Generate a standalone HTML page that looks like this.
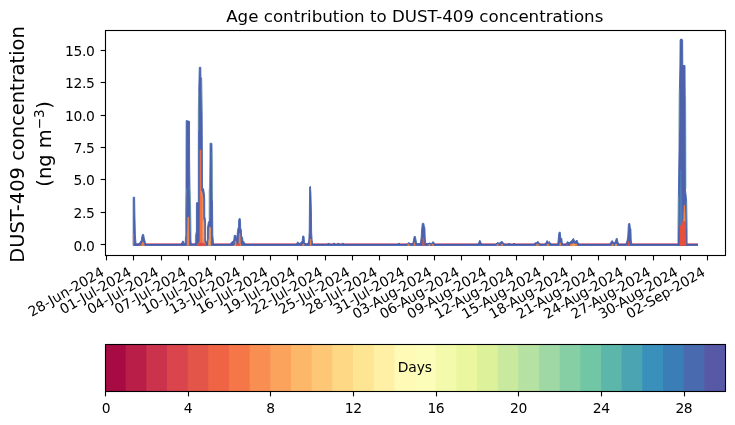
<!DOCTYPE html>
<html lang="en"><head><meta charset="utf-8"><title>Age contribution to DUST-409 concentrations</title>
<style>html,body{margin:0;padding:0;background:#fff;}body{width:735px;height:425px;overflow:hidden;}svg{display:block;}text{font-family:"DejaVu Sans", "Liberation Sans", sans-serif;fill:#000;}</style></head><body>
<svg width="735" height="425" viewBox="0 0 735 425">
<rect x="0" y="0" width="735" height="425" fill="#ffffff"/>
<g id="series"><rect x="133" y="243" width="565" height="1" fill="#dc8ba3"/>
<rect x="133" y="244" width="565" height="1" fill="#4058a6"/>
<rect x="133" y="245" width="565" height="1" fill="#586cb1"/>
<polygon points="133.2,245.4 133.2,197.2 134.6,197.2 134.9,215.0 135.4,236.0 136.0,243.3 136.8,244.2 138.4,243.8 139.8,243.0 140.6,241.0 141.3,240.5 141.8,237.0 142.4,234.4 143.6,234.4 144.2,238.0 144.9,240.5 145.4,243.0 146.0,244.2 146.0,245.4" fill="#4f61ab" stroke="#4463b0" stroke-width="0.9" stroke-linejoin="round"/>
<polyline points="133.3,234.0 133.3,245.2" fill="none" stroke="#f9843f" stroke-width="0.70" stroke-linecap="round" stroke-linejoin="round" stroke-opacity="0.95"/>
<polyline points="133.4,245.2 133.9,245.2" fill="none" stroke="#e8503c" stroke-width="0.80" stroke-linecap="round" stroke-linejoin="round" stroke-opacity="0.90"/>
<polygon points="141.9,245.6 142.3,243.0 143.0,241.8 143.6,243.5 143.9,245.6" fill="#f9843f" stroke="#f9843f" stroke-width="0.6" stroke-linejoin="round"/>
<polyline points="140.0,245.4 144.8,245.4" fill="none" stroke="#f9843f" stroke-width="0.70" stroke-linecap="round" stroke-linejoin="round" stroke-opacity="0.90"/>
<polygon points="181.0,244.4 182.2,242.0 182.7,241.0 183.5,241.2 184.2,243.5 185.2,243.5 185.6,235.0 185.6,215.0 186.0,190.0 186.1,150.0 186.2,120.6 189.5,121.3 189.6,160.0 189.9,185.0 190.5,205.0 190.8,230.0 190.9,240.0 191.3,244.4 193.5,244.4 195.0,244.4 195.4,242.5 195.6,236.0 196.4,231.0 196.4,204.0 196.6,202.6 198.3,202.8 198.3,160.0 198.4,110.0 198.8,88.0 199.3,67.3 200.8,67.3 200.9,77.6 201.6,78.0 202.1,110.0 202.4,160.0 202.5,188.0 203.6,188.8 204.5,195.0 204.7,200.0 204.8,217.0 205.5,219.5 205.7,240.0 206.6,243.3 207.5,240.0 207.5,228.0 208.3,222.5 209.3,220.5 209.3,191.0 209.8,184.0 210.0,160.0 210.1,143.2 211.9,143.4 212.2,160.0 212.5,200.0 212.8,235.0 213.6,244.4" fill="#4f61ab" stroke="#4463b0" stroke-width="0.9" stroke-linejoin="round"/>
<polygon points="187.1,245.6 187.2,236.0 187.9,217.0 188.7,217.5 188.9,236.0 188.9,245.6" fill="#f9843f" stroke="#f9843f" stroke-width="0.6" stroke-linejoin="round"/>
<polygon points="197.2,245.6 198.4,243.5 199.9,241.5 200.0,205.0 200.1,150.0 200.9,150.0 201.0,190.0 202.2,200.0 202.4,241.0 202.4,245.6" fill="#f4703f" stroke="#f4703f" stroke-width="0.6" stroke-linejoin="round"/>
<polygon points="201.0,191.0 202.2,193.0 202.9,200.0 203.0,218.0 204.0,221.0 204.1,241.0 205.0,243.5 205.8,245.6 202.4,245.6 202.4,200.0" fill="#f98e52" stroke="#f98e52" stroke-width="0.6" stroke-linejoin="round"/>
<polygon points="197.2,245.6 198.5,243.8 200.5,243.0 203.5,243.2 205.2,244.2 205.8,245.6" fill="#dc4a48" stroke="#dc4a48" stroke-width="0.6" stroke-linejoin="round"/>
<polyline points="203.3,223.0 203.5,238.0" fill="none" stroke="#fdb768" stroke-width="0.60" stroke-linecap="round" stroke-linejoin="round" stroke-opacity="0.90"/>
<polygon points="208.5,245.4 208.6,241.0 209.2,238.0 209.3,229.0 209.9,226.8 210.6,228.0 210.7,245.4" fill="#fb9a48" stroke="#fb9a48" stroke-width="0.6" stroke-linejoin="round"/>
<polyline points="186.0,189.0 185.6,215.0 185.5,236.0" fill="none" stroke="#9fd8a4" stroke-width="0.60" stroke-linecap="round" stroke-linejoin="round" stroke-opacity="0.80"/>
<polyline points="190.0,187.0 190.7,206.0 191.1,231.0" fill="none" stroke="#9fd8a4" stroke-width="0.60" stroke-linecap="round" stroke-linejoin="round" stroke-opacity="0.80"/>
<polyline points="198.4,92.0 198.3,130.0" fill="none" stroke="#9fd8a4" stroke-width="0.50" stroke-linecap="round" stroke-linejoin="round" stroke-opacity="0.70"/>
<polyline points="201.8,79.0 202.2,112.0" fill="none" stroke="#9fd8a4" stroke-width="0.50" stroke-linecap="round" stroke-linejoin="round" stroke-opacity="0.70"/>
<polyline points="209.3,186.0 209.0,218.0" fill="none" stroke="#9fd8a4" stroke-width="0.60" stroke-linecap="round" stroke-linejoin="round" stroke-opacity="0.80"/>
<polyline points="212.2,152.0 212.6,200.0" fill="none" stroke="#9fd8a4" stroke-width="0.60" stroke-linecap="round" stroke-linejoin="round" stroke-opacity="0.80"/>
<polyline points="195.4,236.0 195.2,242.0" fill="none" stroke="#9fd8a4" stroke-width="0.50" stroke-linecap="round" stroke-linejoin="round" stroke-opacity="0.70"/>
<polygon points="230.5,244.4 231.3,242.5 232.0,241.6 233.0,241.4 233.8,240.0 234.2,236.0 234.4,235.3 236.0,235.5 236.3,238.0 236.9,238.3 237.4,232.0 237.9,228.5 238.5,227.0 238.7,220.0 239.2,218.6 240.2,218.6 240.5,222.0 240.7,228.0 241.3,230.0 241.6,236.0 242.5,237.5 242.9,240.5 243.8,241.5 244.5,243.0 245.8,244.4" fill="#4f61ab" stroke="#4463b0" stroke-width="0.9" stroke-linejoin="round"/>
<polygon points="239.0,245.4 239.2,238.0 239.7,233.3 240.2,238.0 240.5,245.4" fill="#f9843f" stroke="#f9843f" stroke-width="0.6" stroke-linejoin="round"/>
<polygon points="235.1,245.4 235.3,241.0 235.9,241.0 236.1,245.4" fill="#f9843f" stroke="#f9843f" stroke-width="0.6" stroke-linejoin="round"/>
<polyline points="234.2,245.3 241.2,245.3" fill="none" stroke="#fba35c" stroke-width="0.80" stroke-linecap="round" stroke-linejoin="round" stroke-opacity="0.90"/>
<polygon points="236.2,245.6 237.5,243.8 239.5,243.6 240.2,245.6" fill="#e8503c" stroke="#e8503c" stroke-width="0.6" stroke-linejoin="round"/>
<polygon points="296.3,244.4 297.7,241.8 299.0,243.5 300.5,243.0 302.2,241.0 302.7,236.0 304.0,236.2 304.5,243.0 306.5,244.0 308.0,243.6 308.8,240.0 309.2,232.0 309.4,212.0 309.6,187.0 310.4,186.3 310.9,193.0 311.4,212.0 311.6,232.0 312.1,240.0 312.8,244.4" fill="#4f61ab" stroke="#4463b0" stroke-width="0.9" stroke-linejoin="round"/>
<polygon points="310.2,245.4 310.4,239.0 310.9,239.0 311.1,245.4" fill="#f9843f" stroke="#f9843f" stroke-width="0.6" stroke-linejoin="round"/>
<polygon points="302.6,244.3 304.0,244.3 304.0,245.6 302.6,245.6" fill="#f9843f" stroke="#f9843f" stroke-width="0.6" stroke-linejoin="round"/>
<polygon points="327.4,244.4 328.6,242.9 329.8,244.4" fill="#4f61ab" stroke="#4463b0" stroke-width="0.9" stroke-linejoin="round"/>
<polygon points="332.8,244.4 334.0,242.9 335.2,244.4" fill="#4f61ab" stroke="#4463b0" stroke-width="0.9" stroke-linejoin="round"/>
<polygon points="337.2,244.4 338.4,242.9 339.6,244.4" fill="#4f61ab" stroke="#4463b0" stroke-width="0.9" stroke-linejoin="round"/>
<polygon points="341.7,244.4 342.9,242.9 344.1,244.4" fill="#4f61ab" stroke="#4463b0" stroke-width="0.9" stroke-linejoin="round"/>
<polygon points="397.8,244.4 399.0,242.9 400.2,244.4" fill="#4f61ab" stroke="#4463b0" stroke-width="0.9" stroke-linejoin="round"/>
<polygon points="406.8,244.4 408.9,242.5 410.5,243.8 412.8,243.6 413.5,240.0 414.2,236.4 415.4,236.5 416.0,240.0 416.7,243.6 419.0,243.8 420.4,243.0 421.1,238.0 421.6,230.0 422.3,223.5 423.7,223.2 424.4,226.5 424.9,228.0 425.2,238.0 425.8,243.5 428.0,243.8 429.7,242.8 431.0,243.8 432.0,242.8 433.0,241.5 434.2,243.0 435.2,244.4" fill="#4f61ab" stroke="#4463b0" stroke-width="0.9" stroke-linejoin="round"/>
<polygon points="407.8,244.3 409.2,244.3 409.2,245.6 407.8,245.6" fill="#f9843f" stroke="#f9843f" stroke-width="0.6" stroke-linejoin="round"/>
<polygon points="414.1,245.6 414.6,242.5 415.1,245.6" fill="#f9843f" stroke="#f9843f" stroke-width="0.6" stroke-linejoin="round"/>
<polygon points="422.7,245.6 423.1,237.8 423.8,239.0 424.2,245.6" fill="#e8503c" stroke="#e8503c" stroke-width="0.6" stroke-linejoin="round"/>
<polygon points="428.9,244.3 430.1,244.3 430.1,245.6 428.9,245.6" fill="#f9843f" stroke="#f9843f" stroke-width="0.6" stroke-linejoin="round"/>
<polygon points="432.1,244.3 433.3,244.3 433.3,245.6 432.1,245.6" fill="#f9843f" stroke="#f9843f" stroke-width="0.6" stroke-linejoin="round"/>
<polygon points="478.0,244.4 479.0,242.0 479.8,240.2 480.7,242.0 481.8,244.4" fill="#4f61ab" stroke="#4463b0" stroke-width="0.9" stroke-linejoin="round"/>
<polygon points="495.5,244.4 497.9,242.2 499.0,243.5 500.5,242.0 502.0,241.4 503.2,242.5 504.5,244.4" fill="#4f61ab" stroke="#4463b0" stroke-width="0.9" stroke-linejoin="round"/>
<polygon points="497.0,244.3 498.2,244.3 498.2,245.6 497.0,245.6" fill="#f9843f" stroke="#f9843f" stroke-width="0.6" stroke-linejoin="round"/>
<polygon points="501.2,244.3 502.8,244.3 502.8,245.6 501.2,245.6" fill="#f9843f" stroke="#f9843f" stroke-width="0.6" stroke-linejoin="round"/>
<polygon points="507.8,244.4 509.0,243.1 510.2,244.4" fill="#4f61ab" stroke="#4463b0" stroke-width="0.9" stroke-linejoin="round"/>
<polygon points="512.8,244.4 514.0,243.1 515.2,244.4" fill="#4f61ab" stroke="#4463b0" stroke-width="0.9" stroke-linejoin="round"/>
<polygon points="533.5,244.4 535.0,243.0 536.5,242.5 537.9,241.2 539.0,243.0 540.5,244.4" fill="#4f61ab" stroke="#4463b0" stroke-width="0.9" stroke-linejoin="round"/>
<polygon points="536.6,244.3 538.4,244.3 538.4,245.6 536.6,245.6" fill="#f9843f" stroke="#f9843f" stroke-width="0.6" stroke-linejoin="round"/>
<polygon points="544.5,244.4 546.0,242.5 547.1,240.5 548.2,242.5 549.3,241.5 550.3,243.0 551.5,244.4" fill="#4f61ab" stroke="#4463b0" stroke-width="0.9" stroke-linejoin="round"/>
<polygon points="547.0,244.3 549.0,244.3 549.0,245.6 547.0,245.6" fill="#f9843f" stroke="#f9843f" stroke-width="0.6" stroke-linejoin="round"/>
<polygon points="556.5,244.4 557.8,243.5 558.5,236.0 559.0,232.3 560.2,232.1 560.8,237.5 561.8,238.5 562.3,243.0 563.3,244.4" fill="#4f61ab" stroke="#4463b0" stroke-width="0.9" stroke-linejoin="round"/>
<polygon points="559.7,245.6 559.9,243.0 560.6,243.0 560.9,245.6" fill="#f9843f" stroke="#f9843f" stroke-width="0.6" stroke-linejoin="round"/>
<polygon points="565.5,244.4 566.8,242.5 567.9,241.5 569.0,243.0 570.5,241.5 572.0,240.5 573.4,238.3 574.5,241.0 575.8,241.2 576.9,240.0 578.0,242.5 579.5,244.4" fill="#4f61ab" stroke="#4463b0" stroke-width="0.9" stroke-linejoin="round"/>
<polygon points="570.3,245.6 570.5,244.3 573.5,243.8 576.8,244.3 577.0,245.6" fill="#f9843f" stroke="#f9843f" stroke-width="0.6" stroke-linejoin="round"/>
<polygon points="566.9,244.3 567.9,244.3 567.9,245.6 566.9,245.6" fill="#e8503c" stroke="#e8503c" stroke-width="0.6" stroke-linejoin="round"/>
<polygon points="572.8,244.3 574.4,244.3 574.4,245.6 572.8,245.6" fill="#fba35c" stroke="#fba35c" stroke-width="0.6" stroke-linejoin="round"/>
<polygon points="609.8,244.4 611.0,242.0 612.1,240.5 613.2,242.0 614.3,243.3 615.5,241.0 616.3,238.4 617.2,238.5 617.9,242.0 618.8,244.4" fill="#4f61ab" stroke="#4463b0" stroke-width="0.9" stroke-linejoin="round"/>
<polygon points="611.8,244.3 613.2,244.3 613.2,245.6 611.8,245.6" fill="#f9843f" stroke="#f9843f" stroke-width="0.6" stroke-linejoin="round"/>
<polygon points="615.5,244.3 616.9,244.3 616.9,245.6 615.5,245.6" fill="#fba35c" stroke="#fba35c" stroke-width="0.6" stroke-linejoin="round"/>
<polygon points="625.8,244.4 626.6,242.0 627.2,240.0 627.8,236.0 628.4,224.0 629.0,223.3 629.8,223.5 630.3,228.0 630.9,229.0 631.2,240.0 631.9,244.4" fill="#4f61ab" stroke="#4463b0" stroke-width="0.9" stroke-linejoin="round"/>
<polygon points="628.0,245.6 628.3,241.5 629.1,242.0 629.4,245.6" fill="#e8503c" stroke="#e8503c" stroke-width="0.6" stroke-linejoin="round"/>
<polygon points="678.0,245.4 678.1,225.0 678.4,195.0 679.0,150.0 679.3,95.0 679.9,66.0 680.1,39.8 681.4,38.8 682.6,40.0 682.8,65.5 685.0,65.5 685.2,100.0 685.5,190.0 686.6,200.0 687.0,225.0 687.1,245.4" fill="#4f61ab" stroke="#4463b0" stroke-width="0.9" stroke-linejoin="round"/>
<polygon points="679.9,226.0 680.1,195.0 680.8,170.0 681.6,195.0 681.9,226.0" fill="#4a7db5" stroke="#4a7db5" stroke-width="0.6" stroke-linejoin="round"/>
<polygon points="680.0,245.6 680.1,225.5 681.8,225.5 682.3,224.0 682.6,222.0 683.6,219.0 683.9,213.0 684.4,206.0 684.9,213.0 685.6,230.0 685.9,245.6" fill="#e8503c" stroke="#e8503c" stroke-width="0.6" stroke-linejoin="round"/>
<polygon points="683.9,214.0 684.4,205.0 684.9,214.0 685.1,221.0 683.8,221.0" fill="#f9843f" stroke="#f9843f" stroke-width="0.6" stroke-linejoin="round"/>
<polyline points="685.6,97.0 685.9,140.0 686.0,188.0" fill="none" stroke="#4a9ab5" stroke-width="0.70" stroke-linecap="round" stroke-linejoin="round" stroke-opacity="0.85"/>
<polyline points="679.1,89.0 678.8,130.0" fill="none" stroke="#9fd8a4" stroke-width="0.50" stroke-linecap="round" stroke-linejoin="round" stroke-opacity="0.70"/>
<polyline points="678.2,196.0 678.0,228.0" fill="none" stroke="#9fd8a4" stroke-width="0.50" stroke-linecap="round" stroke-linejoin="round" stroke-opacity="0.70"/>
<polyline points="686.9,202.0 687.2,228.0" fill="none" stroke="#9fd8a4" stroke-width="0.50" stroke-linecap="round" stroke-linejoin="round" stroke-opacity="0.70"/></g>
<rect x="105.50" y="30.50" width="620.00" height="225.00" fill="none" stroke="#000" stroke-width="1.11"/>
<line x1="100.64" y1="244.50" x2="105.50" y2="244.50" stroke="#000" stroke-width="1.11"/>
<text x="94.38" y="250.80" font-size="13.89" text-anchor="end" letter-spacing="-0.4">0.0</text>
<line x1="100.64" y1="212.50" x2="105.50" y2="212.50" stroke="#000" stroke-width="1.11"/>
<text x="94.38" y="217.80" font-size="13.89" text-anchor="end" letter-spacing="-0.4">2.5</text>
<line x1="100.64" y1="179.50" x2="105.50" y2="179.50" stroke="#000" stroke-width="1.11"/>
<text x="94.38" y="185.30" font-size="13.89" text-anchor="end" letter-spacing="-0.4">5.0</text>
<line x1="100.64" y1="147.50" x2="105.50" y2="147.50" stroke="#000" stroke-width="1.11"/>
<text x="94.38" y="152.80" font-size="13.89" text-anchor="end" letter-spacing="-0.4">7.5</text>
<line x1="100.64" y1="115.50" x2="105.50" y2="115.50" stroke="#000" stroke-width="1.11"/>
<text x="94.38" y="120.80" font-size="13.89" text-anchor="end" letter-spacing="-0.4">10.0</text>
<line x1="100.64" y1="82.50" x2="105.50" y2="82.50" stroke="#000" stroke-width="1.11"/>
<text x="94.38" y="87.80" font-size="13.89" text-anchor="end" letter-spacing="-0.4">12.5</text>
<line x1="100.64" y1="50.50" x2="105.50" y2="50.50" stroke="#000" stroke-width="1.11"/>
<text x="94.38" y="55.80" font-size="13.89" text-anchor="end" letter-spacing="-0.4">15.0</text>
<line x1="106.50" y1="255.50" x2="106.50" y2="260.36" stroke="#000" stroke-width="1.11"/>
<text transform="translate(105.00 274.80) rotate(-30)" font-size="13.89" text-anchor="end" letter-spacing="-0.08">28-Jun-2024</text>
<line x1="133.50" y1="255.50" x2="133.50" y2="260.36" stroke="#000" stroke-width="1.11"/>
<text transform="translate(132.33 274.80) rotate(-30)" font-size="13.89" text-anchor="end" letter-spacing="-0.08">01-Jul-2024</text>
<line x1="161.50" y1="255.50" x2="161.50" y2="260.36" stroke="#000" stroke-width="1.11"/>
<text transform="translate(159.65 274.80) rotate(-30)" font-size="13.89" text-anchor="end" letter-spacing="-0.08">04-Jul-2024</text>
<line x1="188.50" y1="255.50" x2="188.50" y2="260.36" stroke="#000" stroke-width="1.11"/>
<text transform="translate(186.98 274.80) rotate(-30)" font-size="13.89" text-anchor="end" letter-spacing="-0.08">07-Jul-2024</text>
<line x1="215.50" y1="255.50" x2="215.50" y2="260.36" stroke="#000" stroke-width="1.11"/>
<text transform="translate(214.31 274.80) rotate(-30)" font-size="13.89" text-anchor="end" letter-spacing="-0.08">10-Jul-2024</text>
<line x1="243.50" y1="255.50" x2="243.50" y2="260.36" stroke="#000" stroke-width="1.11"/>
<text transform="translate(241.64 274.80) rotate(-30)" font-size="13.89" text-anchor="end" letter-spacing="-0.08">13-Jul-2024</text>
<line x1="270.50" y1="255.50" x2="270.50" y2="260.36" stroke="#000" stroke-width="1.11"/>
<text transform="translate(268.96 274.80) rotate(-30)" font-size="13.89" text-anchor="end" letter-spacing="-0.08">16-Jul-2024</text>
<line x1="297.50" y1="255.50" x2="297.50" y2="260.36" stroke="#000" stroke-width="1.11"/>
<text transform="translate(296.29 274.80) rotate(-30)" font-size="13.89" text-anchor="end" letter-spacing="-0.08">19-Jul-2024</text>
<line x1="325.50" y1="255.50" x2="325.50" y2="260.36" stroke="#000" stroke-width="1.11"/>
<text transform="translate(323.62 274.80) rotate(-30)" font-size="13.89" text-anchor="end" letter-spacing="-0.08">22-Jul-2024</text>
<line x1="352.50" y1="255.50" x2="352.50" y2="260.36" stroke="#000" stroke-width="1.11"/>
<text transform="translate(350.95 274.80) rotate(-30)" font-size="13.89" text-anchor="end" letter-spacing="-0.08">25-Jul-2024</text>
<line x1="379.50" y1="255.50" x2="379.50" y2="260.36" stroke="#000" stroke-width="1.11"/>
<text transform="translate(378.27 274.80) rotate(-30)" font-size="13.89" text-anchor="end" letter-spacing="-0.08">28-Jul-2024</text>
<line x1="407.50" y1="255.50" x2="407.50" y2="260.36" stroke="#000" stroke-width="1.11"/>
<text transform="translate(405.60 274.80) rotate(-30)" font-size="13.89" text-anchor="end" letter-spacing="-0.08">31-Jul-2024</text>
<line x1="434.50" y1="255.50" x2="434.50" y2="260.36" stroke="#000" stroke-width="1.11"/>
<text transform="translate(432.93 274.80) rotate(-30)" font-size="13.89" text-anchor="end" letter-spacing="-0.08">03-Aug-2024</text>
<line x1="461.50" y1="255.50" x2="461.50" y2="260.36" stroke="#000" stroke-width="1.11"/>
<text transform="translate(460.25 274.80) rotate(-30)" font-size="13.89" text-anchor="end" letter-spacing="-0.08">06-Aug-2024</text>
<line x1="489.50" y1="255.50" x2="489.50" y2="260.36" stroke="#000" stroke-width="1.11"/>
<text transform="translate(487.58 274.80) rotate(-30)" font-size="13.89" text-anchor="end" letter-spacing="-0.08">09-Aug-2024</text>
<line x1="516.50" y1="255.50" x2="516.50" y2="260.36" stroke="#000" stroke-width="1.11"/>
<text transform="translate(514.91 274.80) rotate(-30)" font-size="13.89" text-anchor="end" letter-spacing="-0.08">12-Aug-2024</text>
<line x1="543.50" y1="255.50" x2="543.50" y2="260.36" stroke="#000" stroke-width="1.11"/>
<text transform="translate(542.24 274.80) rotate(-30)" font-size="13.89" text-anchor="end" letter-spacing="-0.08">15-Aug-2024</text>
<line x1="571.50" y1="255.50" x2="571.50" y2="260.36" stroke="#000" stroke-width="1.11"/>
<text transform="translate(569.56 274.80) rotate(-30)" font-size="13.89" text-anchor="end" letter-spacing="-0.08">18-Aug-2024</text>
<line x1="598.50" y1="255.50" x2="598.50" y2="260.36" stroke="#000" stroke-width="1.11"/>
<text transform="translate(596.89 274.80) rotate(-30)" font-size="13.89" text-anchor="end" letter-spacing="-0.08">21-Aug-2024</text>
<line x1="625.50" y1="255.50" x2="625.50" y2="260.36" stroke="#000" stroke-width="1.11"/>
<text transform="translate(624.22 274.80) rotate(-30)" font-size="13.89" text-anchor="end" letter-spacing="-0.08">24-Aug-2024</text>
<line x1="653.50" y1="255.50" x2="653.50" y2="260.36" stroke="#000" stroke-width="1.11"/>
<text transform="translate(651.55 274.80) rotate(-30)" font-size="13.89" text-anchor="end" letter-spacing="-0.08">27-Aug-2024</text>
<line x1="680.50" y1="255.50" x2="680.50" y2="260.36" stroke="#000" stroke-width="1.11"/>
<text transform="translate(678.87 274.80) rotate(-30)" font-size="13.89" text-anchor="end" letter-spacing="-0.08">30-Aug-2024</text>
<line x1="707.50" y1="255.50" x2="707.50" y2="260.36" stroke="#000" stroke-width="1.11"/>
<text transform="translate(706.20 274.80) rotate(-30)" font-size="13.89" text-anchor="end" letter-spacing="-0.08">02-Sep-2024</text>
<text x="414.80" y="22.00" font-size="16.67" text-anchor="middle">Age contribution to DUST-409 concentrations</text>
<text transform="translate(24.20 144.50) rotate(-90)" font-size="19.44" text-anchor="middle">DUST-409 concentration</text>
<text transform="translate(51.20 143.90) rotate(-90)" font-size="19.44" text-anchor="middle">(ng m<tspan font-size="13.6" dy="-7.4">−3</tspan><tspan dy="7.4" dx="0.6">)</tspan></text>
<rect x="105.000" y="344.50" width="21.667" height="47.00" fill="#a70b44"/>
<rect x="125.667" y="344.50" width="21.667" height="47.00" fill="#b81e48"/>
<rect x="146.333" y="344.50" width="21.667" height="47.00" fill="#cb334d"/>
<rect x="167.000" y="344.50" width="21.667" height="47.00" fill="#d9444d"/>
<rect x="187.667" y="344.50" width="21.667" height="47.00" fill="#e45549"/>
<rect x="208.333" y="344.50" width="21.667" height="47.00" fill="#ee6445"/>
<rect x="229.000" y="344.50" width="21.667" height="47.00" fill="#f57748"/>
<rect x="249.667" y="344.50" width="21.667" height="47.00" fill="#f98e52"/>
<rect x="270.333" y="344.50" width="21.667" height="47.00" fill="#fba35c"/>
<rect x="291.000" y="344.50" width="21.667" height="47.00" fill="#fdb768"/>
<rect x="311.667" y="344.50" width="21.667" height="47.00" fill="#fdc776"/>
<rect x="332.333" y="344.50" width="21.667" height="47.00" fill="#fed884"/>
<rect x="353.000" y="344.50" width="21.667" height="47.00" fill="#fee593"/>
<rect x="373.667" y="344.50" width="21.667" height="47.00" fill="#fff0a6"/>
<rect x="394.333" y="344.50" width="21.667" height="47.00" fill="#fffab6"/>
<rect x="415.000" y="344.50" width="21.667" height="47.00" fill="#fbfdb8"/>
<rect x="435.667" y="344.50" width="21.667" height="47.00" fill="#f3faac"/>
<rect x="456.333" y="344.50" width="21.667" height="47.00" fill="#eaf79e"/>
<rect x="477.000" y="344.50" width="21.667" height="47.00" fill="#ddf19a"/>
<rect x="497.667" y="344.50" width="21.667" height="47.00" fill="#c8e99e"/>
<rect x="518.333" y="344.50" width="21.667" height="47.00" fill="#b5e1a2"/>
<rect x="539.000" y="344.50" width="21.667" height="47.00" fill="#9fd8a4"/>
<rect x="559.667" y="344.50" width="21.667" height="47.00" fill="#86cfa5"/>
<rect x="580.333" y="344.50" width="21.667" height="47.00" fill="#71c6a5"/>
<rect x="601.000" y="344.50" width="21.667" height="47.00" fill="#5cb7aa"/>
<rect x="621.667" y="344.50" width="21.667" height="47.00" fill="#4ba4b1"/>
<rect x="642.333" y="344.50" width="21.667" height="47.00" fill="#3990ba"/>
<rect x="663.000" y="344.50" width="21.667" height="47.00" fill="#3a7eb8"/>
<rect x="683.667" y="344.50" width="21.667" height="47.00" fill="#496aaf"/>
<rect x="704.333" y="344.50" width="20.667" height="47.00" fill="#5758a6"/>
<rect x="105.50" y="344.50" width="620.00" height="47.00" fill="none" stroke="#000" stroke-width="1.11"/>
<line x1="105.50" y1="391.50" x2="105.50" y2="396.36" stroke="#000" stroke-width="1.11"/>
<text x="105.90" y="413.02" font-size="13.89" text-anchor="middle" letter-spacing="-0.4">0</text>
<line x1="188.50" y1="391.50" x2="188.50" y2="396.36" stroke="#000" stroke-width="1.11"/>
<text x="187.87" y="413.02" font-size="13.89" text-anchor="middle" letter-spacing="-0.4">4</text>
<line x1="270.50" y1="391.50" x2="270.50" y2="396.36" stroke="#000" stroke-width="1.11"/>
<text x="270.53" y="413.02" font-size="13.89" text-anchor="middle" letter-spacing="-0.4">8</text>
<line x1="353.50" y1="391.50" x2="353.50" y2="396.36" stroke="#000" stroke-width="1.11"/>
<text x="353.20" y="413.02" font-size="13.89" text-anchor="middle" letter-spacing="-0.4">12</text>
<line x1="436.50" y1="391.50" x2="436.50" y2="396.36" stroke="#000" stroke-width="1.11"/>
<text x="435.87" y="413.02" font-size="13.89" text-anchor="middle" letter-spacing="-0.4">16</text>
<line x1="518.50" y1="391.50" x2="518.50" y2="396.36" stroke="#000" stroke-width="1.11"/>
<text x="518.53" y="413.02" font-size="13.89" text-anchor="middle" letter-spacing="-0.4">20</text>
<line x1="601.50" y1="391.50" x2="601.50" y2="396.36" stroke="#000" stroke-width="1.11"/>
<text x="601.20" y="413.02" font-size="13.89" text-anchor="middle" letter-spacing="-0.4">24</text>
<line x1="684.50" y1="391.50" x2="684.50" y2="396.36" stroke="#000" stroke-width="1.11"/>
<text x="683.87" y="413.02" font-size="13.89" text-anchor="middle" letter-spacing="-0.4">28</text>
<text x="414.80" y="372.00" font-size="13.89" text-anchor="middle" letter-spacing="-0.15">Days</text>
</svg></body></html>
